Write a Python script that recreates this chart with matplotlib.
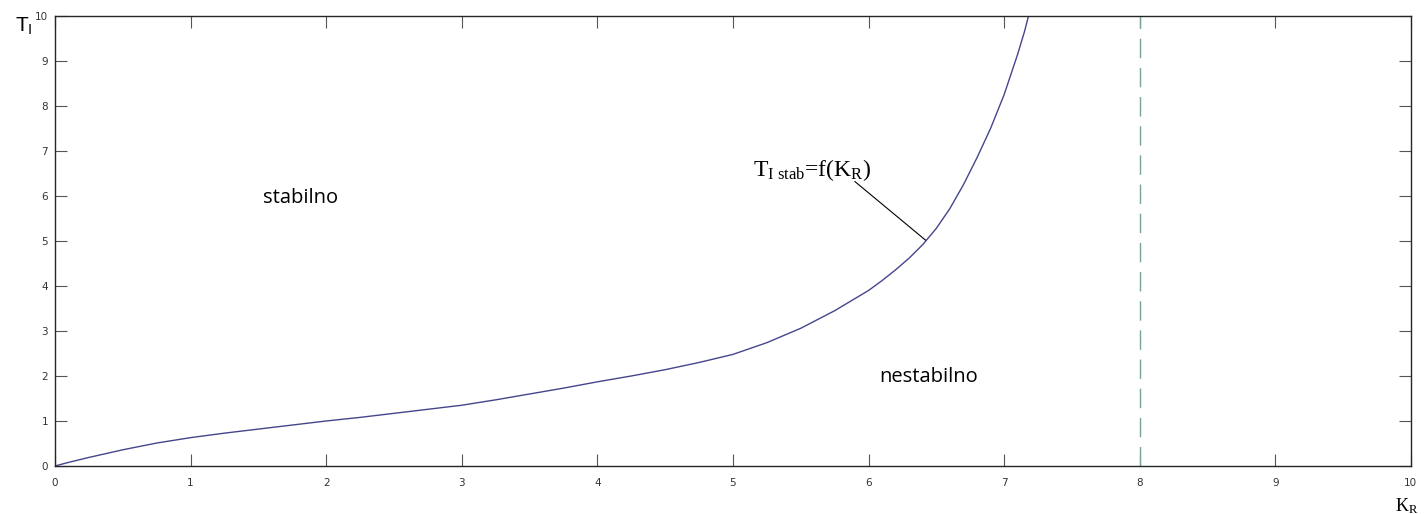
import numpy as np
import matplotlib.pyplot as plt

plt.rcParams['mathtext.fontset'] = 'custom'
plt.rcParams['mathtext.rm'] = 'Liberation Serif'
plt.rcParams['mathtext.it'] = 'Liberation Serif:italic'

# ocitane tacke krive T_I stab = f(K_R)
kr = [0, 0.05, 0.1, 0.25, 0.5, 0.75, 1.0, 1.25, 1.5, 1.75, 2.0, 2.25, 2.5, 2.75,
      3.0, 3.25, 3.5, 3.75, 4.0, 4.25, 4.5, 4.75, 5.0, 5.25, 5.5, 5.75,
      6.0, 6.1, 6.2, 6.3, 6.4, 6.5, 6.6, 6.7, 6.8, 6.9, 7.0, 7.05, 7.1, 7.15, 7.18]
ti = [0, 0.04, 0.08, 0.19, 0.36, 0.51, 0.63, 0.73, 0.82, 0.91, 1.0, 1.08, 1.17, 1.26,
      1.35, 1.47, 1.6, 1.73, 1.87, 2.0, 2.14, 2.3, 2.48, 2.74, 3.06, 3.45,
      3.9, 4.12, 4.36, 4.62, 4.92, 5.28, 5.72, 6.25, 6.85, 7.5, 8.25, 8.7, 9.15, 9.65, 10.0]

kr_granica = 8
ticks = list(range(0, 11))

fig = plt.figure(figsize=(14.28, 5.14), dpi=100)
ax = fig.add_axes([0.0385, 0.0934, 0.9495, 0.8755])

ax.plot(kr, ti, color='#45458c', lw=1.0)
ax.axvline(kr_granica, color='#79a39c', lw=1.0, dashes=(14, 7))

# oznaka krive sa linijom
ax.text(5.15, 6.44, r'T$_\mathrm{I\ stab}$=f(K$_\mathrm{R}$)', fontsize=17,
        family='Liberation Serif', ha='left', va='baseline')
ax.plot([5.90, 6.42], [6.32, 5.02], color='k', lw=0.8)

ax.text(1.81, 5.96, 'stabilno', fontsize=14.5, family='Open Sans', ha='center', va='center')
ax.text(6.44, 1.98, 'nestabilno', fontsize=14.5, family='Open Sans', ha='center', va='center')

ax.set_xlim(0, 10)
ax.set_ylim(0, 10)
ax.set_xticks(ticks)
ax.set_yticks(ticks)
ax.tick_params(direction='in', length=8.5, width=0.8, color='#555555',
               labelsize=7.5, labelcolor='#333333', top=True, right=True)
ax.tick_params(axis='x', pad=9)
ax.tick_params(axis='y', pad=5)
for s in ax.spines.values():
    s.set_color('#262626')
    s.set_linewidth(1.0)

fig.text(24 / 1428, 1 - 25 / 514, r'T$_\mathregular{I}$', fontsize=15, ha='center', va='center',
         family='Liberation Sans')
fig.text(1407 / 1428, 1 - 506 / 514, r'$\mathrm{K_R}$', fontsize=13, ha='center', va='center')

fig.savefig('out.png', dpi=100)
